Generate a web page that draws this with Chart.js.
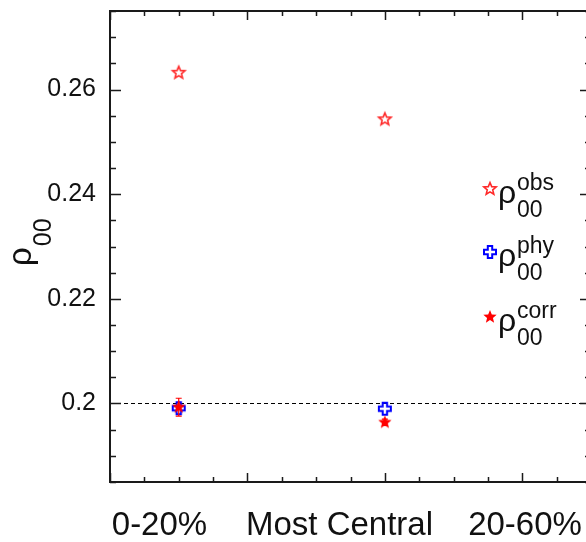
<!DOCTYPE html>
<html>
<head>
<meta charset="utf-8">
<script src="https://cdn.jsdelivr.net/npm/chart.js@4"></script>
<style>
html, body { margin: 0; padding: 0; background: #fff; overflow: hidden; }
</style>
</head>
<body>
<canvas id="myChart" width="602" height="542"></canvas>
<script>
// centrality bins (x position of each bin on the axis)
const binX = [0.5, 2];

// rho_00 values
const obsValues = [0.2632, 0.2543];
const phyValues = [0.1991, 0.1990];
const corrValues = [0.1993, 0.1964];
const corrErrors = [0.0017, 0.0006];

// axis labels
const xLabels = ['0-20%', 'Most Central', '20-60%'];
const xLabelPos = [0.36, 1.67, 3.02];
const yTicks = [0.2, 0.22, 0.24, 0.26];
const yTickLabels = ['0.2', '0.22', '0.24', '0.26'];
const refLevel = 0.2;

const FONT = 'Liberation Sans, Arial, sans-serif';
const TEXT = '#111';

// marker images
function starPath(ctx, R, r) {
  ctx.beginPath();
  for (let i = 0; i < 10; i++) {
    const rad = i % 2 === 0 ? R : r;
    const a = -Math.PI / 2 + i * Math.PI / 5;
    const px = 10 + rad * Math.cos(a), py = 10 + rad * Math.sin(a);
    if (i === 0) ctx.moveTo(px, py); else ctx.lineTo(px, py);
  }
  ctx.closePath();
}

function makeMarker(kind) {
  const c = document.createElement('canvas');
  c.width = 20; c.height = 20;
  const g = c.getContext('2d');
  if (kind === 'openStar') {
    starPath(g, 6.5, 2.9);
    g.strokeStyle = '#ff2a2a';
    g.lineWidth = 1.6;
    g.stroke();
  } else if (kind === 'fullStar') {
    starPath(g, 7, 3.1);
    g.fillStyle = '#ff0000';
    g.fill();
  } else {
    const a = 2.2, L = 6;
    const pts = [[-a,-L],[a,-L],[a,-a],[L,-a],[L,a],[a,a],[a,L],[-a,L],[-a,a],[-L,a],[-L,-a],[-a,-a]];
    g.beginPath();
    pts.forEach((p, i) => i ? g.lineTo(10 + p[0], 10 + p[1]) : g.moveTo(10 + p[0], 10 + p[1]));
    g.closePath();
    g.strokeStyle = '#0000ff';
    g.lineWidth = 2;
    g.stroke();
  }
  return c;
}

const openStar = makeMarker('openStar');
const fullStar = makeMarker('fullStar');
const openCross = makeMarker('cross');

function pts(vals) {
  return vals.map((v, i) => ({ x: binX[i], y: v }));
}

// frame, inward ticks, error bars, axis title and legend
const decor = {
  id: 'decor',
  afterDatasetsDraw(chart) {
    const ctx = chart.ctx, xs = chart.scales.x, ys = chart.scales.y;
    ctx.save();
    ctx.strokeStyle = '#ff0000';
    ctx.lineWidth = 1.2;
    corrValues.forEach((v, i) => {
      const px = xs.getPixelForValue(binX[i]);
      const top = ys.getPixelForValue(v + corrErrors[i]);
      const bot = ys.getPixelForValue(v - corrErrors[i]);
      ctx.beginPath();
      ctx.moveTo(px, top); ctx.lineTo(px, bot);
      ctx.moveTo(px - 3, top); ctx.lineTo(px + 3, top);
      ctx.moveTo(px - 3, bot); ctx.lineTo(px + 3, bot);
      ctx.stroke();
    });
    ctx.restore();
  },
  afterDraw(chart) {
    const ctx = chart.ctx, a = chart.chartArea;
    const xs = chart.scales.x, ys = chart.scales.y;
    ctx.save();
    ctx.strokeStyle = '#1a1a1a';
    ctx.lineWidth = 2;
    ctx.strokeRect(a.left, a.top, a.right - a.left, a.bottom - a.top);

    ctx.lineWidth = 1.5;
    ctx.beginPath();
    for (let k = 0; k <= 14; k++) {
      const v = k * 0.25;
      const len = k % 4 === 0 ? 9 : 5;
      const px = Math.round(xs.getPixelForValue(v)) + 0.5;
      ctx.moveTo(px, a.bottom); ctx.lineTo(px, a.bottom - len);
      ctx.moveTo(px, a.top); ctx.lineTo(px, a.top + len);
    }
    for (let k = 0; k <= 18; k++) {
      const v = 0.185 + k * 0.005;
      const major = Math.abs(v * 50 - Math.round(v * 50)) < 1e-6;
      const len = major ? 11 : 6;
      const py = Math.round(ys.getPixelForValue(v)) + 0.5;
      ctx.moveTo(a.left, py); ctx.lineTo(a.left + len, py);
      ctx.moveTo(a.right, py); ctx.lineTo(a.right - len, py);
    }
    ctx.stroke();

    // y title: rho_00
    ctx.fillStyle = TEXT;
    ctx.save();
    ctx.translate(31, 266);
    ctx.rotate(-Math.PI / 2);
    ctx.textBaseline = 'alphabetic';
    ctx.textAlign = 'left';
    ctx.font = '33px ' + FONT;
    ctx.fillText('\u03c1', 0, 0);
    const rw = ctx.measureText('\u03c1').width;
    ctx.font = '25px ' + FONT;
    ctx.fillText('00', rw + 1, 20);
    ctx.restore();

    // legend
    const entries = [
      { img: openStar, sup: 'obs', y: 189 },
      { img: openCross, sup: 'phy', y: 252 },
      { img: fullStar, sup: 'corr', y: 317 }
    ];
    entries.forEach(e => {
      ctx.drawImage(e.img, 490 - 10, e.y - 10);
      ctx.font = '32px ' + FONT;
      ctx.fillText('\u03c1', 498, e.y + 14);
      ctx.font = '23px ' + FONT;
      ctx.fillText(e.sup, 517, e.y + 1);
      ctx.fillText('00', 517, e.y + 28);
    });
    ctx.restore();
  }
};

const ctx = document.getElementById('myChart').getContext('2d');
const myChart = new Chart(ctx, {
  type: 'scatter',
  data: {
    datasets: [
      { label: 'corr', data: pts(corrValues), pointStyle: fullStar, pointRadius: 10 },
      { label: 'phy', data: pts(phyValues), pointStyle: openCross, pointRadius: 10 },
      { label: 'obs', data: pts(obsValues), pointStyle: openStar, pointRadius: 10 },
      {
        label: 'ref',
        data: [{ x: 0, y: refLevel }, { x: 3.5, y: refLevel }],
        showLine: true, pointRadius: 0,
        borderColor: '#000', borderWidth: 1, borderDash: [4, 3]
      }
    ]
  },
  options: {
    responsive: false,
    animation: false,
    layout: { padding: { top: 8, right: 2, left: 0, bottom: 0 } },
    plugins: { legend: { display: false }, tooltip: { enabled: false } },
    scales: {
      x: {
        type: 'linear', min: 0, max: 3.5,
        grid: { display: false, drawTicks: false },
        border: { display: false },
        afterBuildTicks: s => { s.ticks = xLabelPos.map(v => ({ value: v })); },
        afterFit: s => { s.height = 60; s.paddingLeft = 0; s.paddingRight = 0; },
        ticks: {
          autoSkip: false, maxRotation: 0, padding: 24,
          font: { family: FONT, size: 33 }, color: TEXT,
          callback: (v, i) => xLabels[i]
        }
      },
      y: {
        min: 0.185, max: 0.275,
        grid: { display: false, drawTicks: false },
        border: { display: false },
        afterBuildTicks: s => { s.ticks = yTicks.map(v => ({ value: v })); },
        afterFit: s => { s.width = 110; s.paddingTop = 0; s.paddingBottom = 0; },
        ticks: {
          padding: 14,
          font: { family: FONT, size: 25 }, color: TEXT,
          callback: (v, i) => yTickLabels[i]
        }
      }
    }
  },
  plugins: [decor]
});
</script>
</body>
</html>
